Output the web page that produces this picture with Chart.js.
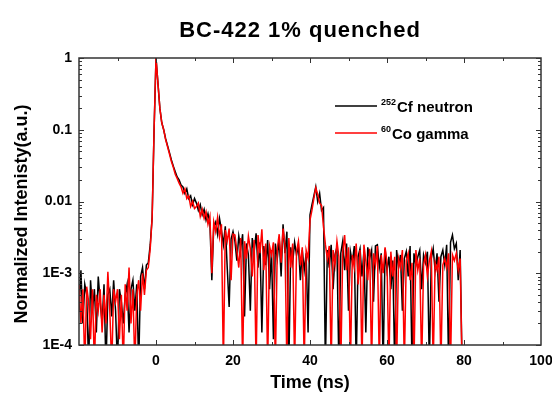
<!DOCTYPE html>
<html>
<head>
<meta charset="utf-8">
<script src="https://cdn.jsdelivr.net/npm/chart.js@4.4.0/dist/chart.umd.min.js"></script>
<style>
  html, body { margin: 0; padding: 0; background: #fff; }
  #grafico { display: block; }
</style>
</head>
<body>
<canvas id="grafico" width="552" height="394"></canvas>
<script>
// tiempo (ns), un renglon por cada 10 ns
const tiempo = [
  -20, -19.5, -19, -18.5, -18, -17.5, -17, -16.5, -16, -15.5, -15, -14.5, -14, -13.5, -13, -12.5, -12, -11.5, -11, -10.5,
  -10, -9.5, -9, -8.5, -8, -7.5, -7, -6.5, -6, -5.5, -5, -4.5, -4, -3.5, -3, -2.5, -2, -1.5, -1, -0.5,
  0, 0.5, 1, 1.5, 2, 2.5, 3, 3.5, 4, 4.5, 5, 5.5, 6, 6.5, 7, 7.5, 8, 8.5, 9, 9.5,
  10, 10.5, 11, 11.5, 12, 12.5, 13, 13.5, 14, 14.5, 15, 15.5, 16, 16.5, 17, 17.5, 18, 18.5, 19, 19.5,
  20, 20.5, 21, 21.5, 22, 22.5, 23, 23.5, 24, 24.5, 25, 25.5, 26, 26.5, 27, 27.5, 28, 28.5, 29, 29.5,
  30, 30.5, 31, 31.5, 32, 32.5, 33, 33.5, 34, 34.5, 35, 35.5, 36, 36.5, 37, 37.5, 38, 38.5, 39, 39.5,
  40, 40.5, 41, 41.5, 42, 42.5, 43, 43.5, 44, 44.5, 45, 45.5, 46, 46.5, 47, 47.5, 48, 48.5, 49, 49.5,
  50, 50.5, 51, 51.5, 52, 52.5, 53, 53.5, 54, 54.5, 55, 55.5, 56, 56.5, 57, 57.5, 58, 58.5, 59, 59.5,
  60, 60.5, 61, 61.5, 62, 62.5, 63, 63.5, 64, 64.5, 65, 65.5, 66, 66.5, 67, 67.5, 68, 68.5, 69, 69.5,
  70, 70.5, 71, 71.5, 72, 72.5, 73, 73.5, 74, 74.5, 75, 75.5, 76, 76.5, 77, 77.5, 78, 78.5, 79, 79.5
];

// 252Cf neutron (negro)
const neutron = [
  3e-4, 1.1e-3, 2e-4, 7e-4, 5e-4, 5e-5, 8e-4, 3e-4, 6e-4, 1.5e-4, 9e-4, 4e-4, 2e-4, 7e-4, 5e-5, 5e-4, 6e-4, 2.5e-4, 8e-4, 3e-4,
  5e-5, 6e-4, 4e-4, 2e-4, 5e-4, 7e-4, 1.5e-4, 6e-4, 8e-4, 3e-4, 7e-4, 5e-5, 9e-4, 1.2e-3, 6e-4, 1.3e-3, 1.4e-3, 2.5e-3, 6e-3, 0.1,
  1.0, 0.45, 0.2, 0.125, 0.1, 0.075, 0.06, 0.048, 0.038, 0.031, 0.026, 0.022, 0.02, 0.017, 0.016, 0.013, 0.015, 0.011, 0.012, 0.009,
  0.011, 0.0095, 0.0075, 0.009, 0.0065, 0.0078, 0.0055, 0.0068, 0.005, 8e-4, 0.0045, 0.0052, 0.0035, 0.0058, 0.004, 0.0025, 0.0045, 0.0012, 3.4e-4, 0.003,
  0.0038, 0.0028, 0.0015, 0.0033, 0.0022, 0.0035, 2.5e-4, 0.0026, 0.0018, 3e-4, 0.0031, 0.002, 0.0036, 0.0012, 0.0027, 1.5e-4, 0.0024, 0.0013, 0.0029, 6e-4,
  0.0021, 1.2e-4, 0.0026, 0.0016, 0.003, 0.0009, 0.0048, 0.0019, 0.0038, 5e-5, 0.0023, 0.0014, 0.0027, 0.0018, 0.0024, 8e-4, 0.0021, 0.0011, 0.0019, 1.5e-4,
  0.0065, 0.009, 0.012, 0.016, 0.01, 0.013, 0.0075, 0.0082, 5e-5, 0.0021, 0.0012, 0.0025, 0.0006, 0.0018, 0.0023, 5e-5, 0.0019, 0.0028, 0.0011, 0.0026,
  3e-4, 0.002, 0.0014, 0.0024, 5e-5, 0.0017, 0.0022, 0.0009, 0.002, 1.5e-4, 0.0023, 0.0016, 0.0021, 4e-4, 0.0024, 0.0025, 0.0012, 0.0019, 5e-5, 0.0022,
  0.0011, 0.0017, 0.0006, 0.0015, 5e-5, 0.0021, 0.0012, 0.0018, 0.0003, 0.0016, 0.002, 0.0009, 0.0024, 5e-5, 0.0019, 0.0013, 0.0017, 0.0021, 0.0006, 0.0018,
  0.0014, 0.002, 5e-5, 0.0016, 0.0022, 0.0011, 0.0019, 0.0004, 0.0017, 0.0021, 0.0013, 0.0025, 5e-5, 0.0027, 0.0034, 0.0022, 0.0026, 0.0008, 0.0021, 5e-5
];

// 60Co gamma (rojo)
const gamma = [
  7e-4, 2e-4, 6e-4, 5e-5, 6.5e-4, 4e-4, 1.2e-4, 6e-4, 5e-5, 5e-4, 3e-4, 6e-4, 1.5e-4, 5e-4, 2e-4, 1.05e-3, 3e-4, 5e-5, 6e-4, 4e-4,
  6e-4, 1.2e-4, 5e-4, 5e-5, 7e-4, 3e-4, 1.2e-3, 2e-4, 6e-4, 5e-5, 5e-4, 8e-4, 3e-4, 1e-3, 5e-4, 1.1e-3, 1.2e-3, 2.2e-3, 6e-3, 0.1,
  1.0, 0.45, 0.2, 0.125, 0.1, 0.073, 0.058, 0.046, 0.036, 0.03, 0.024, 0.021, 0.018, 0.016, 0.013, 0.015, 0.011, 0.012, 0.0085, 0.01,
  0.008, 0.0085, 0.0095, 0.0062, 0.0078, 0.0058, 0.0072, 0.0048, 0.0062, 1e-3, 0.0052, 0.0038, 0.006, 0.0032, 0.0048, 5e-5, 0.004, 0.0028, 0.0042, 8e-4,
  0.0035, 0.0034, 0.0021, 0.0012, 0.0031, 5e-5, 0.0028, 0.0016, 0.0033, 0.0022, 0.0009, 0.0029, 5e-5, 0.0034, 0.0019, 0.0041, 0.0011, 0.0026, 5e-5, 0.0024,
  0.0018, 0.0027, 5e-5, 0.0022, 0.0035, 0.0014, 0.0042, 0.0025, 5e-5, 0.0031, 0.0012, 0.0026, 5e-5, 0.002, 0.0028, 0.0013, 0.0023, 5e-5, 0.0021, 0.0016,
  0.0055, 0.0075, 0.011, 0.0155, 0.0125, 0.0095, 0.0088, 0.0045, 0.0025, 0.0016, 0.0024, 5e-5, 0.0021, 0.0013, 0.0028, 0.0017, 5e-5, 0.002, 0.0034, 0.0011,
  0.0023, 5e-5, 0.0018, 0.0012, 0.0026, 0.0007, 0.0021, 5e-5, 0.0025, 0.0015, 0.0008, 0.0022, 5e-5, 0.0019, 0.0013, 0.0024, 5e-5, 0.0018, 0.001, 0.0023,
  0.0014, 5e-5, 0.002, 0.0009, 0.0017, 5e-5, 0.0016, 0.0012, 0.0021, 5e-5, 0.0015, 0.0019, 0.0008, 0.0014, 5e-5, 0.0021, 0.0011, 0.0016, 5e-5, 0.0013,
  0.0018, 0.0009, 0.0015, 0.002, 5e-5, 0.0014, 0.0011, 0.0017, 5e-5, 0.0013, 0.0016, 0.0012, 0.0019, 5e-5, 0.0018, 0.0015, 0.0019, 0.0011, 0.0016, 5e-5
];

const valoresX = [0, 20, 40, 60, 80, 100];
const valoresY = [1e-4, 1e-3, 0.01, 0.1, 1];
const etiquetasY = ['1E-4', '1E-3', '0.01', '0.1', '1'];

if (neutron.length !== tiempo.length || gamma.length !== tiempo.length) {
  throw new Error('longitudes distintas: ' + tiempo.length + ' ' + neutron.length + ' ' + gamma.length);
}

const fuente = 'Liberation Sans, Arial, sans-serif';

const puntosNeutron = tiempo.map((t, i) => ({ x: t, y: neutron[i] }));
const puntosGamma = tiempo.map((t, i) => ({ x: t, y: gamma[i] }));

// titulos, marco, marcas hacia dentro y leyenda
const marcoPlugin = {
  id: 'marco',
  afterDraw(chart) {
    const { ctx, chartArea, scales } = chart;
    const { left, right, top, bottom } = chartArea;
    const x = scales.x;
    const y = scales.y;
    ctx.save();

    // titulo
    ctx.fillStyle = '#000';
    ctx.textAlign = 'center';
    ctx.textBaseline = 'alphabetic';
    ctx.font = 'bold 22px ' + fuente;
    ctx.letterSpacing = '1px';
    ctx.fillText('BC-422 1% quenched', 300, 37);
    ctx.letterSpacing = '0px';

    // titulo eje y
    ctx.save();
    ctx.translate(22, 214);
    ctx.rotate(-Math.PI / 2);
    ctx.textBaseline = 'middle';
    ctx.font = 'bold 18px ' + fuente;
    ctx.fillText('Normalized Intenisty(a.u.)', 0, 0);
    ctx.restore();

    ctx.strokeStyle = '#333';
    ctx.lineWidth = 1.5;
    ctx.strokeRect(left, top, right - left, bottom - top);

    ctx.lineWidth = 1;
    ctx.beginPath();
    for (let v = -10; v < 100; v += 10) {
      const px = Math.round(x.getPixelForValue(v)) + 0.5;
      const largo = v % 20 === 0 ? 5 : 3;
      ctx.moveTo(px, bottom); ctx.lineTo(px, bottom - largo);
      ctx.moveTo(px, top); ctx.lineTo(px, top + largo);
    }
    for (let k = -4; k <= 0; k++) {
      for (let m = 1; m <= 9; m++) {
        const v = m * Math.pow(10, k);
        if (v > 1) break;
        const py = Math.round(y.getPixelForValue(v)) + 0.5;
        const largo = m === 1 ? 5 : 3;
        ctx.moveTo(left, py); ctx.lineTo(left + largo, py);
        ctx.moveTo(right, py); ctx.lineTo(right - largo, py);
      }
    }
    ctx.stroke();

    // leyenda
    const entradas = [
      { color: '#000000', sup: '252', texto: 'Cf neutron', y: 106 },
      { color: '#ff0000', sup: '60', texto: 'Co gamma', y: 133 }
    ];
    ctx.textAlign = 'left';
    entradas.forEach(e => {
      ctx.strokeStyle = e.color;
      ctx.lineWidth = 1.5;
      ctx.beginPath();
      ctx.moveTo(335, e.y);
      ctx.lineTo(377, e.y);
      ctx.stroke();
      ctx.fillStyle = '#000';
      ctx.textBaseline = 'alphabetic';
      ctx.font = 'bold 9px ' + fuente;
      ctx.fillText(e.sup, 381, e.y - 1);
      const w = ctx.measureText(e.sup).width;
      ctx.font = 'bold 15px ' + fuente;
      ctx.fillText(e.texto, 381 + w + 1, e.y + 6);
    });
    ctx.restore();
  }
};

const ctx = document.getElementById('grafico').getContext('2d');
new Chart(ctx, {
  type: 'line',
  data: {
    datasets: [
      {
        label: '60Co gamma',
        data: puntosGamma,
        borderColor: '#ff0000',
        borderWidth: 1.5,
        pointRadius: 0,
        tension: 0,
        order: 0,
        clip: 0
      },
      {
        label: '252Cf neutron',
        data: puntosNeutron,
        borderColor: '#000000',
        borderWidth: 1.5,
        pointRadius: 0,
        tension: 0,
        order: 1,
        clip: 0
      }
    ]
  },
  options: {
    responsive: false,
    animation: false,
    devicePixelRatio: 1,
    layout: { padding: { left: 0, right: 11, top: 58, bottom: 0 } },
    plugins: {
      legend: { display: false },
      tooltip: { enabled: false },
      title: { display: false }
    },
    scales: {
      x: {
        type: 'linear',
        min: -20,
        max: 100,
        afterBuildTicks: s => { s.ticks = valoresX.map(v => ({ value: v })); },
        afterFit: s => { s.height = 49; s.paddingLeft = 0; s.paddingRight = 0; },
        grid: { display: false, drawTicks: false },
        border: { display: false },
        ticks: {
          color: '#000',
          padding: 8,
          maxRotation: 0,
          autoSkip: false,
          font: { family: fuente, size: 14, weight: 'bold' }
        },
        title: {
          display: true,
          text: 'Time (ns)',
          color: '#000',
          font: { family: fuente, size: 18, weight: 'bold' },
          padding: { top: 5, bottom: 0 }
        }
      },
      y: {
        type: 'logarithmic',
        min: 1e-4,
        max: 1,
        afterBuildTicks: s => { s.ticks = valoresY.map(v => ({ value: v })); },
        afterFit: s => { s.width = 79; s.paddingTop = 0; s.paddingBottom = 0; },
        grid: { display: false, drawTicks: false },
        border: { display: false },
        ticks: {
          color: '#000',
          padding: 7,
          autoSkip: false,
          font: { family: fuente, size: 14, weight: 'bold' },
          callback: (valor, i) => etiquetasY[i]
        }
      }
    }
  },
  plugins: [marcoPlugin]
});
</script>
</body>
</html>
